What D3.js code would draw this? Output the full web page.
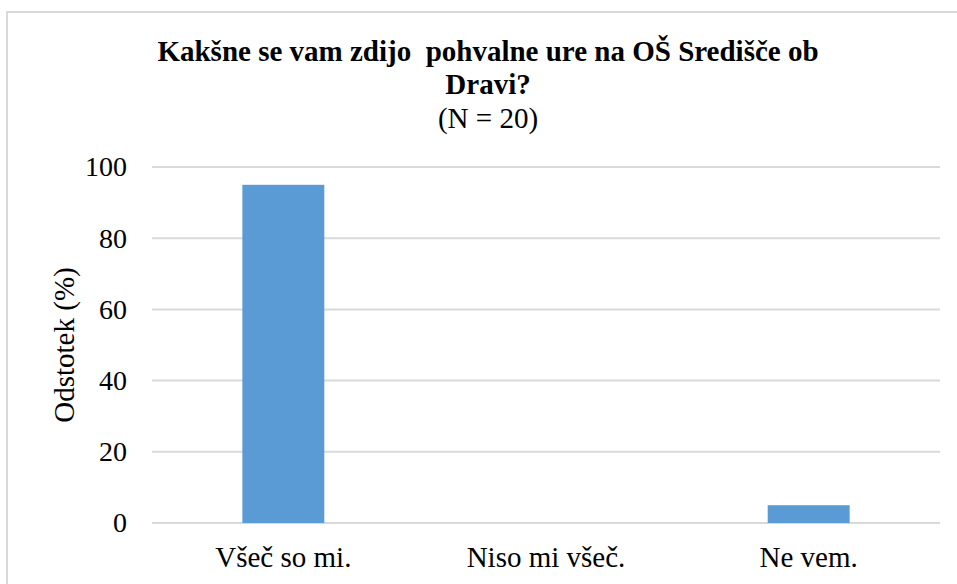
<!DOCTYPE html>
<html>
<head>
<meta charset="utf-8">
<script src="https://cdn.jsdelivr.net/npm/d3@7"></script>
<style>
  svg text { font-family: "Liberation Serif", "Times New Roman", Times, serif !important; }
</style>
</head>
<body style="margin:0">
<div id="chart"></div>
<script>
// data
let categories = ["Všeč so mi.", "Niso mi všeč.", "Ne vem."];
let values = [95, 0, 5];
let yTicks = [0, 20, 40, 60, 80, 100];
let titleLines = ["Kakšne se vam zdijo  pohvalne ure na OŠ Središče ob", "Dravi?"];
let subtitle = "(N = 20)";
let yLabel = "Odstotek (%)";

let width = 957;
let height = 584;
let margin = { top: 167, right: 17, bottom: 61, left: 152 };
let fontName = 'Liberation Serif';

let svg = d3.select('#chart')
	.append('svg')
	.attr('width', width)
	.attr('height', height)
	.attr('font-family', fontName);

// chart frame (runs past the right and bottom edge)
svg.append('rect')
	.attr('x', 7)
	.attr('y', 12)
	.attr('width', 970)
	.attr('height', 600)
	.attr('fill', 'none')
	.attr('stroke', '#d9d9d9')
	.attr('stroke-width', 2);

let xScale = d3.scaleBand()
	.domain(categories)
	.range([margin.left, width - margin.right])
	.paddingInner(0.688)
	.paddingOuter(0.344);

let yScale = d3.scaleLinear()
	.domain([0, 100])
	.range([height - margin.bottom, margin.top]);

// gridlines
svg.append('g')
	.selectAll('line')
	.data(yTicks)
	.enter()
	.append('line')
	.attr('x1', margin.left)
	.attr('x2', width - margin.right)
	.attr('y1', d => yScale(d))
	.attr('y2', d => yScale(d))
	.attr('stroke', '#d9d9d9')
	.attr('stroke-width', 2);

// bars
svg.selectAll('rect.bar')
	.data(values)
	.enter()
	.append('rect')
	.attr('class', 'bar')
	.attr('x', (d, i) => xScale(categories[i]))
	.attr('y', d => yScale(d))
	.attr('width', xScale.bandwidth())
	.attr('height', d => yScale(0) - yScale(d))
	.attr('fill', '#5b9bd5');

// y axis
let yAxis = svg.append('g')
	.attr('transform', `translate(${margin.left},0)`)
	.call(d3.axisLeft(yScale).tickValues(yTicks).tickSize(0).tickPadding(25))
	.attr('font-family', fontName)
	.attr('font-size', 28);
yAxis.select('.domain').remove();
yAxis.selectAll('text')
	.attr('fill', '#000')
	.attr('font-family', fontName);

// x axis
let xAxis = svg.append('g')
	.attr('transform', `translate(0,${height - margin.bottom})`)
	.call(d3.axisBottom(xScale).tickSize(0))
	.attr('font-family', fontName)
	.attr('font-size', 29);
xAxis.select('.domain').remove();
xAxis.selectAll('text')
	.attr('y', 44)
	.attr('dy', 0)
	.attr('fill', '#000')
	.attr('font-family', fontName);

// y label
svg.append('text')
	.attr('transform', 'rotate(-90)')
	.attr('x', -345)
	.attr('y', 74)
	.attr('text-anchor', 'middle')
	.attr('font-family', fontName)
	.attr('font-size', 29)
	.text(yLabel);

// title
svg.selectAll('text.title')
	.data(titleLines)
	.enter()
	.append('text')
	.attr('class', 'title')
	.attr('x', 488)
	.attr('y', (d, i) => 61 + i * 33)
	.attr('text-anchor', 'middle')
	.attr('xml:space', 'preserve')
	.attr('font-family', fontName)
	.attr('font-size', 29)
	.attr('font-weight', 'bold')
	.text(d => d);

svg.append('text')
	.attr('x', 488)
	.attr('y', 128)
	.attr('text-anchor', 'middle')
	.attr('font-family', fontName)
	.attr('font-size', 29)
	.text(subtitle);
</script>
</body>
</html>
